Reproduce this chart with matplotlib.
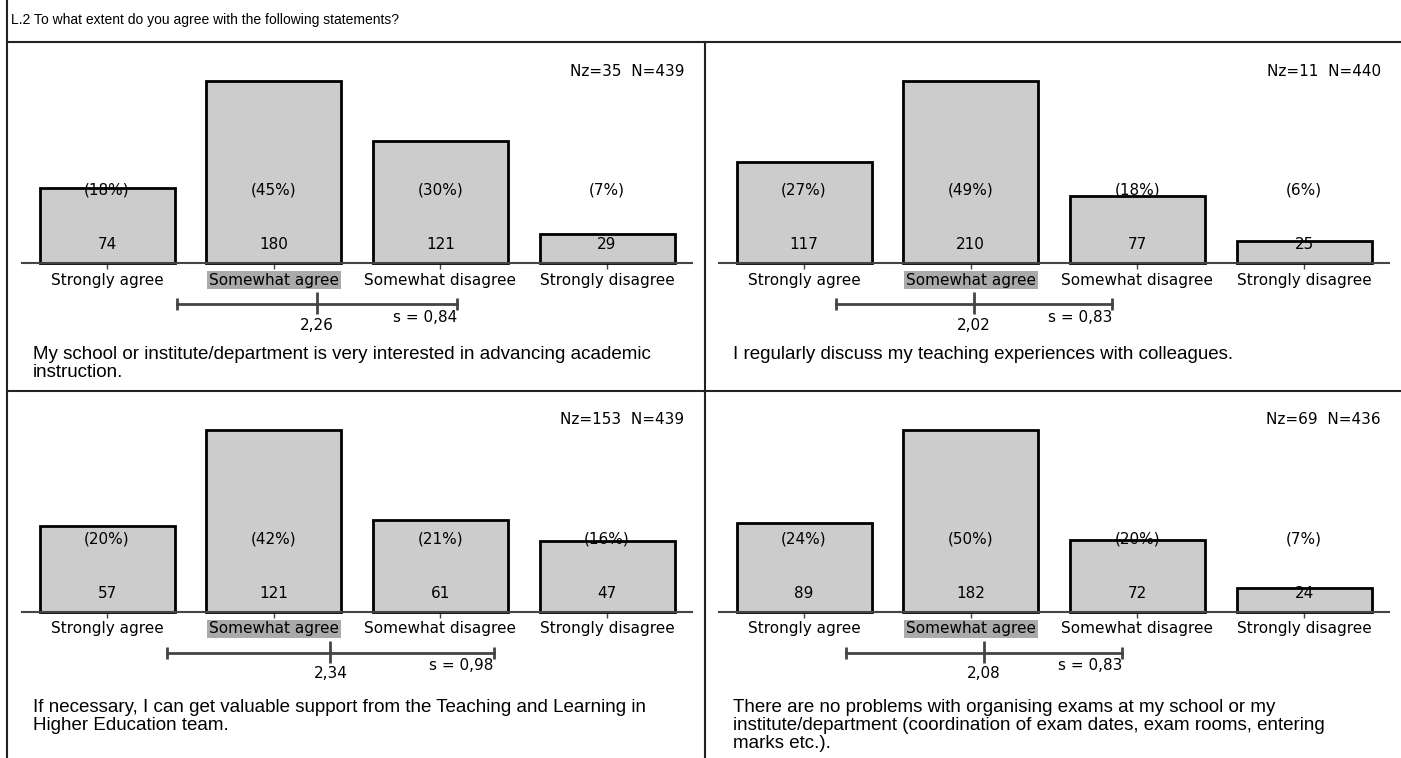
import matplotlib
matplotlib.use('Agg')
import matplotlib.pyplot as plt
from matplotlib.lines import Line2D
import numpy as np

# survey block L.2 - four statements, 4-point agreement scale
question = 'L.2 To what extent do you agree with the following statements?'
categories = ['Strongly agree', 'Somewhat agree', 'Somewhat disagree', 'Strongly disagree']

counts_1 = [74, 180, 121, 29]
counts_2 = [117, 210, 77, 25]
counts_3 = [57, 121, 61, 47]
counts_4 = [89, 182, 72, 24]

pcts_1 = [18, 45, 30, 7]
pcts_2 = [27, 49, 18, 6]
pcts_3 = [20, 42, 21, 16]
pcts_4 = [24, 50, 20, 7]

means = [2.26, 2.02, 2.34, 2.08]
sds = [0.84, 0.83, 0.98, 0.83]
nz = [35, 11, 153, 69]
n_total = [439, 440, 439, 436]

statements = [
    'My school or institute/department is very interested in advancing academic\ninstruction.',
    'I regularly discuss my teaching experiences with colleagues.',
    'If necessary, I can get valuable support from the Teaching and Learning in\nHigher Education team.',
    'There are no problems with organising exams at my school or my\ninstitute/department (coordination of exam dates, exam rooms, entering\nmarks etc.).',
]

all_counts = [counts_1, counts_2, counts_3, counts_4]
all_pcts = [pcts_1, pcts_2, pcts_3, pcts_4]

W, H = 1401, 758
fig = plt.figure(figsize=(W / 100, H / 100), dpi=100)

def fx(px):
    return px / W

def fy(py):
    return 1 - py / H

def frame_line(x0, y0, x1, y1):
    fig.add_artist(Line2D([fx(x0), fx(x1)], [fy(y0), fy(y1)], transform=fig.transFigure,
                          color='#222222', lw=1.5))

# table frame
frame_line(7, 0, 7, H)
frame_line(7, 42, W, 42)
frame_line(7, 391, W, 391)
frame_line(705, 42, 705, H)

fig.text(fx(11), fy(20), question, fontsize=10, family='Liberation Sans', va='center', ha='left')

x = np.arange(1, 5)
gray = '#444444'
chart_font = 'DejaVu Sans'
fs = 11

for i in range(4):
    r, c = divmod(i, 2)
    left = 22 + c * 697
    base = 263 + r * 349
    top = 81 + r * 349
    axh = base - top
    counts = all_counts[i]
    pcts = all_pcts[i]

    ax = fig.add_axes([fx(left), fy(base), 670 / W, axh / H])
    ax.set_xlim(0.49, 4.51)
    ax.set_ylim(0, max(counts))
    ax.bar(x, counts, width=0.81, color='#cccccc', edgecolor='black', linewidth=2, zorder=2, clip_on=False)

    for s in ['top', 'left', 'right']:
        ax.spines[s].set_visible(False)
    ax.spines['bottom'].set_color(gray)
    ax.spines['bottom'].set_linewidth(1.5)
    ax.spines['bottom'].set_zorder(3)
    ax.set_yticks([])
    ax.set_xticks(x)
    ax.tick_params(axis='x', direction='inout', length=8, width=1, color=gray, labelbottom=False)
    ax.patch.set_alpha(0)

    tr = ax.get_xaxis_transform()
    mode = int(np.argmax(counts))
    for j in range(4):
        ax.text(x[j], 73 / axh, '(%d%%)' % pcts[j], transform=tr, ha='center', va='center',
                fontsize=fs, family=chart_font, zorder=5)
        ax.text(x[j], 19 / axh, str(counts[j]), transform=tr, ha='center', va='center',
                fontsize=fs, family=chart_font, zorder=5)
        kw = {}
        if j == mode:
            kw['bbox'] = dict(boxstyle='square,pad=0.12', facecolor='#aaaaaa', edgecolor='none')
        ax.text(x[j], -17 / axh, categories[j], transform=tr, ha='center', va='center',
                fontsize=fs, family=chart_font, clip_on=False, **kw)

    # mean +/- sd bar
    m, sd = means[i], sds[i]
    lo, hi = m - sd, m + sd
    y0 = -41 / axh
    ax.plot([lo, hi], [y0, y0], transform=tr, color=gray, lw=2, clip_on=False)
    ax.vlines([lo, hi], y0 - 6 / axh, y0 + 6 / axh, transform=tr, color=gray, lw=2, clip_on=False)
    ax.vlines([m], y0 - 10 / axh, y0 + 12 / axh, transform=tr, color=gray, lw=2, clip_on=False)
    ax.text(m, -62 / axh, ('%.2f' % m).replace('.', ','), transform=tr, ha='center', va='center',
            fontsize=fs, family=chart_font)
    ax.text(hi, -54 / axh, ('s = %.2f' % sd).replace('.', ','), transform=tr, ha='right', va='center',
            fontsize=fs, family=chart_font)

    ax.text((684 - 22) / 670, (base - (71 + r * 349)) / axh, 'Nz=%d  N=%d' % (nz[i], n_total[i]),
            transform=ax.transAxes, ha='right', va='center', fontsize=fs, family=chart_font)

    fig.text(fx(33 + c * 700), fy(346 + r * 353), statements[i], fontsize=13.5, family='Liberation Sans',
             ha='left', va='top', linespacing=1.08)

fig.savefig('out.png', dpi=100)
